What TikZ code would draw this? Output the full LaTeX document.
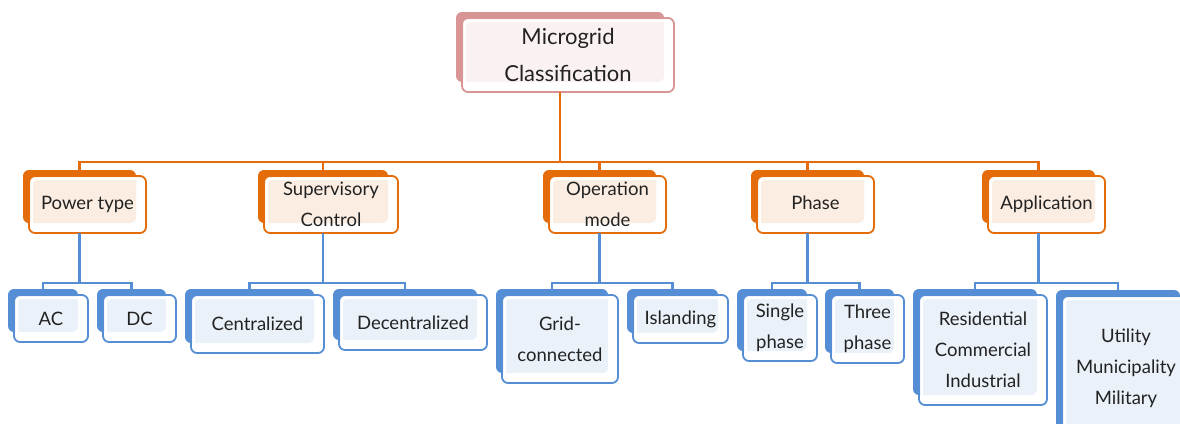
\documentclass[tikz,border=0pt]{standalone}
\usepackage{fontspec}
\setmainfont{Lato}
\definecolor{oline}{HTML}{E46C0A}
\definecolor{bline}{HTML}{558ED5}
\definecolor{pline}{HTML}{D99594}
\definecolor{txt}{HTML}{222222}
\pgfdeclarelayer{paper}
\pgfdeclarelayer{back}
\pgfsetlayers{paper,back,main}
\tikzset{
  front/.style={draw=#1line, fill=white, fill opacity=0.88, text opacity=1,
    line width=1.8pt, rounded corners=6pt, inner sep=0pt, outer sep=0pt,
    align=center, text=txt, font=\fontsize{18.5}{31}\selectfont},
  backbox/.style={fill=#1line, rounded corners=6pt, inner sep=0pt, outer sep=0pt},
  owire/.style={draw=oline, line width=2.4pt},
  bwire/.style={draw=bline, line width=2.4pt},
  big/.style={font=\fontsize{22}{37}\selectfont}
}
% #1 name, #2 colour scheme, #3-#6 front box corners, #7 extra style, #8 text
\newcommand{\cbox}[8]{%
  \node[front=#2, #7, minimum width={#5-#3}, minimum height={#6-#4}]
    (#1) at ({(#3+#5)/2},{(#4+#6)/2}) {#8};
  \draw[white, line width=2.6pt, rounded corners=3.5pt]
    ([shift={(2.9,2.9)}]#1.north west) rectangle ([shift={(-2.9,-2.9)}]#1.south east);
  \begin{pgfonlayer}{back}
    \node[backbox=#2, minimum width={#5-#3-4}, minimum height={#6-#4-4}]
      (#1b) at ({(#3+#5)/2-8},{(#4+#6)/2-8}) {};
  \end{pgfonlayer}
}
\begin{document}
\begin{tikzpicture}[x=1pt,y=-1pt]
\useasboundingbox (0,0) rectangle (1180,423);
\begin{pgfonlayer}{paper}
  \fill[white] (0,0) rectangle (1180,423);
\end{pgfonlayer}

% root
\cbox{top}{p}{462}{18}{674}{92}{big}{Microgrid\\Classification}

% first level
\cbox{pt}{o}{29}{176}{146}{233}{}{Power type}
\cbox{sc}{o}{264}{176}{398}{233}{}{Supervisory\\Control}
\cbox{op}{o}{549}{176}{666}{233}{}{Operation\\mode}
\cbox{ph}{o}{757}{176}{874}{233}{text depth=3pt}{Phase}
\cbox{app}{o}{988}{176}{1105}{233}{}{Application}

% second level
\cbox{ac}{b}{14}{295}{88}{342}{}{AC}
\cbox{dc}{b}{103}{295}{176}{342}{}{DC}
\cbox{cen}{b}{191}{295}{324}{353}{}{Centralized}
\cbox{dec}{b}{339}{295}{487}{350}{}{Decentralized}
\cbox{grid}{b}{502}{295}{618}{383}{}{Grid-\\connected}
\cbox{isl}{b}{633}{295}{728}{343}{}{Islanding}
\cbox{sgl}{b}{743}{295}{817}{361}{}{Single\\phase}
\cbox{thr}{b}{831}{295}{904}{363}{}{Three\\phase}
\cbox{rci}{b}{919}{295}{1047}{405}{}{Residential\\Commercial\\Industrial}
\cbox{umm}{b}{1062}{296}{1190}{440}{}{Utility\\Municipality\\Military}

% bus levels
\coordinate (obus) at (0,162);
\coordinate (bbus) at (0,283);

% root to first level
\draw[owire] (topb |- top.south) -- (topb |- obus);
\draw[owire] (ptb.north) |- (appb |- obus) -- (appb.north);
\draw[owire] (scb.north) -- (scb |- obus);
\draw[owire] (opb.north) -- (opb |- obus);
\draw[owire] (phb.north) -- (phb |- obus);

% first level to second level
\draw[bwire] (ptb |- pt.south) -- (ptb |- bbus);
\draw[bwire] (acb.north) |- (dcb |- bbus) -- (dcb.north);
\draw[bwire] (scb |- sc.south) -- (scb |- bbus);
\draw[bwire] (cenb.north) |- (decb |- bbus) -- (decb.north);
\draw[bwire] (opb |- op.south) -- (opb |- bbus);
\draw[bwire] (gridb.north) |- (islb |- bbus) -- (islb.north);
\draw[bwire] (phb |- ph.south) -- (phb |- bbus);
\draw[bwire] (sglb.north) |- (thrb |- bbus) -- (thrb.north);
\draw[bwire] (appb |- app.south) -- (appb |- bbus);
\draw[bwire] (rcib.north) |- (ummb |- bbus) -- (ummb.north);
\end{tikzpicture}
\end{document}
